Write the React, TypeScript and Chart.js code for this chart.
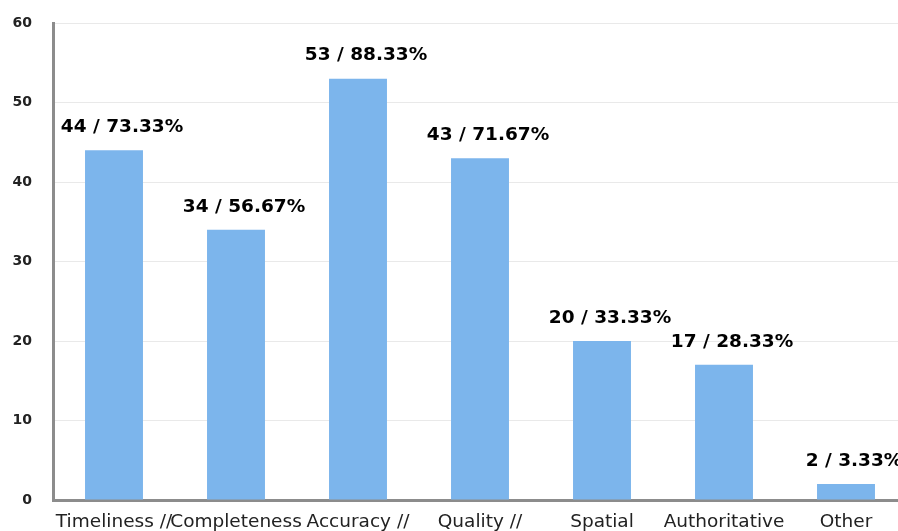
import React, { useEffect, useRef } from "react";
import { Chart, registerables } from "chart.js";

Chart.register(...registerables);

const categories = ["Timeliness //", "Completeness", "Accuracy //", "Quality //", "Spatial", "Authoritative", "Other"];
const counts = [44, 34, 53, 43, 20, 17, 2];
const percents = ["73.33", "56.67", "88.33", "71.67", "33.33", "28.33", "3.33"];
const yTicks = [0, 10, 20, 30, 40, 50, 60];

const FONT = "'DejaVu Sans', Verdana, sans-serif";

const labelPlugin = {
  id: "barLabels",
  afterDatasetsDraw(chart: any) {
    const ctx = chart.ctx;
    const meta = chart.getDatasetMeta(0);
    ctx.save();
    ctx.font = `bold 18.5px ${FONT}`;
    ctx.fillStyle = "#000";
    ctx.textAlign = "center";
    ctx.textBaseline = "middle";
    meta.data.forEach((bar: any, i: number) => {
      ctx.fillText(`${counts[i]} / ${percents[i]}%`, bar.x + 8, bar.y - 23);
    });
    ctx.restore();
  },
};

export default function App() {
  const ref = useRef<HTMLCanvasElement | null>(null);
  useEffect(() => {
    if (!ref.current) return;
    const chart = new Chart(ref.current, {
      type: "bar",
      data: {
        labels: categories,
        datasets: [
          {
            data: counts,
            backgroundColor: "#7cb5ec",
            barPercentage: 0.475,
            categoryPercentage: 1,
          },
        ],
      },
      options: {
        animation: false,
        responsive: false,
        maintainAspectRatio: false,
        layout: { padding: { top: 23, right: 3, left: 0, bottom: 0 } },
        plugins: { legend: { display: false }, tooltip: { enabled: false } },
        scales: {
          x: {
            grid: { display: false, drawTicks: false },
            border: { display: true, color: "#8c8c8c", width: 3 },
            ticks: {
              autoSkip: false,
              maxRotation: 0,
              minRotation: 0,
              padding: 11,
              color: "#222",
              font: { family: FONT, size: 18.5 },
            },
            afterFit: (s: any) => {
              s.height = 45;
            },
          },
          y: {
            min: 0,
            max: 60,
            afterBuildTicks: (s: any) => {
              s.ticks = yTicks.map((v) => ({ value: v }));
            },
            grid: {
              color: "#e9e9e9",
              lineWidth: 1,
              drawTicks: true,
              tickLength: 21,
              tickColor: "rgba(0,0,0,0)",
            },
            border: { display: true, color: "#8c8c8c", width: 3 },
            ticks: {
              padding: 0,
              color: "#222",
              font: { family: FONT, size: 14, weight: "bold" },
            },
            afterFit: (s: any) => {
              s.width = 53;
            },
          },
        },
      },
      plugins: [labelPlugin],
    });
    return () => chart.destroy();
  }, []);
  return (
    <div style={{ position: "fixed", left: 0, top: 0, width: 910, height: 545, background: "#fff" }}>
      <canvas ref={ref} width={910} height={545} style={{ width: 910, height: 545, display: "block" }} />
    </div>
  );
}
